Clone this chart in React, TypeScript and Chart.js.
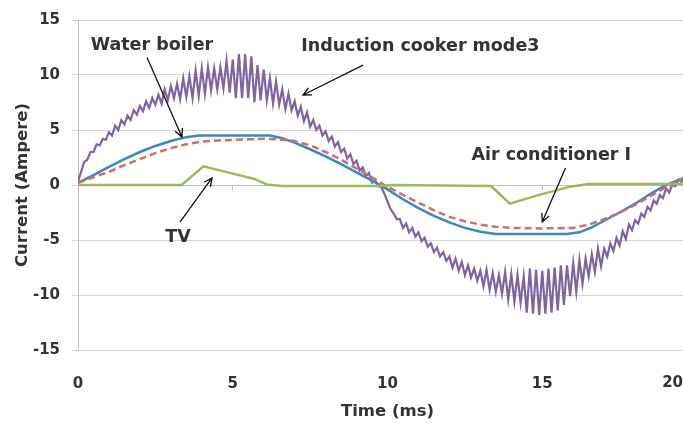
import React, { useEffect, useRef } from 'react';
import { Chart, registerables } from 'chart.js';

Chart.register(...registerables);

// ---- axes ----
const xTickValues = [0, 5, 10, 15, 20];
const yTickValues = [-15, -10, -5, 0, 5, 10, 15];

// ---- Induction cooker mode3 (sampled every 0.1 ms) ----
const inductionStepMs = 0.1;
const inductionCooker = [
  0.3, 1.2, 2.1, 2.3, 3.0, 3.0, 3.7, 3.6, 4.2, 4.1,
  4.8, 4.5, 5.4, 5.0, 5.9, 5.5, 6.3, 5.9, 6.8, 6.4,
  7.2, 6.7, 7.6, 7.0, 7.9, 7.3, 8.2, 7.4, 8.7, 7.7,
  9.0, 7.9, 9.2, 7.8, 9.7, 8.0, 9.9, 7.9, 10.4, 8.1,
  10.6, 8.3, 10.7, 8.6, 10.6, 8.7, 10.7, 8.8, 11.3, 8.4,
  11.4, 7.9, 11.9, 7.9, 11.9, 7.9, 11.7, 7.5, 10.9, 7.7,
  10.5, 7.7, 9.7, 7.4, 9.4, 7.3, 8.7, 6.9, 8.3, 6.8,
  7.6, 6.3, 7.1, 5.8, 6.6, 5.3, 5.9, 5.0, 5.4, 4.5,
  4.9, 4.0, 4.4, 3.5, 3.9, 3.0, 3.3, 2.4, 2.8, 1.9,
  2.2, 1.3, 1.6, 0.8, 1.1, 0.2, 0.4, -0.1, -0.2, -0.8,
  -1.5, -2.2, -2.6, -3.1, -3.1, -3.9, -3.5, -4.3, -3.9, -4.7,
  -4.3, -5.1, -4.8, -5.6, -5.3, -6.1, -5.7, -6.5, -6.1, -6.9,
  -6.5, -7.5, -6.7, -7.8, -7.0, -8.2, -7.3, -8.4, -7.6, -8.7,
  -7.8, -9.2, -7.7, -9.5, -8.0, -9.7, -8.2, -9.9, -7.9, -10.4,
  -8.1, -10.6, -8.2, -10.7, -8.3, -11.6, -7.6, -11.7, -7.7, -11.8,
  -7.8, -11.7, -7.6, -11.6, -7.5, -11.4, -7.3, -10.9, -7.3, -10.1,
  -7.1, -9.7, -6.8, -9.0, -6.7, -8.3, -6.3, -7.9, -5.8, -7.4,
  -5.8, -6.5, -5.3, -6.0, -4.8, -5.5, -4.2, -4.9, -3.6, -4.1,
  -3.2, -3.5, -2.6, -2.9, -2.0, -2.3, -1.4, -1.7, -0.9, -1.2,
  -0.3, -0.7, 0.0, -0.1, 0.5, 0.3, 0.9, 0.7, 1.4, 1.2,
  1.6,
];
const inductionTime = inductionCooker.map((_, i) => Math.round(i * inductionStepMs * 10) / 10);

// ---- Water boiler ----
const boilerTime = [0, 0.5, 1, 1.5, 2, 2.5, 3, 3.5, 3.9, 6.2, 6.6, 7, 7.5, 8, 8.5, 9, 9.5, 10, 10.5, 11, 11.5, 12, 12.5, 13, 13.5, 15.8, 16.2, 16.6, 17, 17.5, 18, 18.5, 19, 19.5, 20];
const boilerCurrent = [0.2, 0.9, 1.65, 2.35, 3.0, 3.55, 4.0, 4.35, 4.5, 4.5, 4.25, 3.85, 3.25, 2.6, 1.9, 1.15, 0.4, -0.4, -1.3, -2.1, -2.8, -3.4, -3.9, -4.25, -4.45, -4.45, -4.3, -3.85, -3.25, -2.5, -1.7, -0.8, 0.0, 0.55, 1.1];

// ---- Air conditioner I ----
const acTime = [0, 0.5, 1, 1.5, 2, 2.5, 3, 3.5, 4, 4.5, 5, 5.5, 6, 6.5, 7, 7.5, 8, 8.5, 9, 9.5, 9.9, 10.5, 11, 11.5, 12, 12.5, 13, 13.5, 14, 15, 16, 16.5, 17, 17.5, 18, 18.5, 19, 19.5, 20];
const acCurrent = [0.2, 0.7, 1.2, 1.8, 2.35, 2.9, 3.35, 3.7, 3.95, 4.05, 4.1, 4.15, 4.2, 4.15, 4.0, 3.6, 3.0, 2.3, 1.5, 0.7, 0.0, -0.9, -1.6, -2.3, -2.9, -3.3, -3.6, -3.8, -3.9, -3.95, -3.9, -3.6, -3.1, -2.5, -1.8, -1.0, -0.2, 0.5, 1.1];

// ---- TV ----
const tvTime = [0, 3.35, 4.05, 5.2, 5.7, 6.1, 6.6, 9.7, 10.2, 13.35, 13.95, 14.9, 15.9, 16.5, 20];
const tvCurrent = [0, 0, 1.7, 0.9, 0.55, 0.05, -0.1, -0.1, 0.0, -0.1, -1.7, -0.9, -0.15, 0.1, 0.1];

// ---- annotations (data coordinates) ----
const annotationTexts = ['Water boiler', 'Induction cooker mode3', 'Air conditioner I', 'TV'];
const annotationAt = [[2.39, 12.7], [11.06, 12.6], [15.29, 2.73], [3.23, -4.8]];
const arrowFrom = [[2.23, 11.6], [9.21, 10.9], [15.75, 1.55], [3.3, -3.36]];
const arrowTo = [[3.36, 4.36], [7.27, 8.18], [15.0, -3.36], [4.33, 0.64]];

const TEXT = '#333333';
const FONT_FAMILY = '"DejaVu Sans", Verdana, sans-serif';

const toXY = (t: number[], v: number[]) => t.map((x, i) => ({ x, y: v[i] }));

const annotationPlugin = {
  id: 'annotations',
  afterDraw(chart: any) {
    const { ctx, scales } = chart;
    const xs = scales.x;
    const ys = scales.y;
    ctx.save();
    ctx.fillStyle = TEXT;
    ctx.strokeStyle = '#111';
    ctx.lineWidth = 1.3;
    ctx.font = `bold 17.5px ${FONT_FAMILY}`;
    ctx.textAlign = 'center';
    ctx.textBaseline = 'middle';
    annotationTexts.forEach((txt, i) => {
      const px = xs.getPixelForValue(annotationAt[i][0]);
      const py = ys.getPixelForValue(annotationAt[i][1]);
      ctx.fillText(txt, px, py);
      const x1 = xs.getPixelForValue(arrowFrom[i][0]);
      const y1 = ys.getPixelForValue(arrowFrom[i][1]);
      const x2 = xs.getPixelForValue(arrowTo[i][0]);
      const y2 = ys.getPixelForValue(arrowTo[i][1]);
      ctx.beginPath();
      ctx.moveTo(x1, y1);
      ctx.lineTo(x2, y2);
      const ang = Math.atan2(y2 - y1, x2 - x1);
      const L = 9;
      const spread = 0.45;
      ctx.moveTo(x2 - L * Math.cos(ang - spread), y2 - L * Math.sin(ang - spread));
      ctx.lineTo(x2, y2);
      ctx.lineTo(x2 - L * Math.cos(ang + spread), y2 - L * Math.sin(ang + spread));
      ctx.stroke();
    });
    // last x tick label, pulled inside the visible area (as in the source chart)
    ctx.font = `bold 15px ${FONT_FAMILY}`;
    ctx.textAlign = 'right';
    const last = xTickValues[xTickValues.length - 1];
    ctx.fillText(String(last), 683, xs.top + 33);
    ctx.restore();
  },
};

export default function App() {
  const ref = useRef<HTMLCanvasElement | null>(null);
  useEffect(() => {
    if (!ref.current) return;
    const tickFont = { family: FONT_FAMILY, size: 15, weight: 'bold' as const };
    const titleFont = { family: FONT_FAMILY, size: 16.5, weight: 'bold' as const };
    const chart = new Chart(ref.current, {
      type: 'line',
      data: {
        datasets: [
          {
            label: 'TV',
            data: toXY(tvTime, tvCurrent),
            borderColor: '#9BBB59',
            borderWidth: 2.5,
            pointRadius: 0,
            order: 0,
          },
          {
            label: 'Air conditioner I',
            data: toXY(acTime, acCurrent),
            borderColor: '#D96B63',
            borderWidth: 2.5,
            borderDash: [7, 4],
            pointRadius: 0,
            order: 1,
          },
          {
            label: 'Water boiler',
            data: toXY(boilerTime, boilerCurrent),
            borderColor: '#3589C9',
            borderWidth: 2.5,
            pointRadius: 0,
            order: 2,
          },
          {
            label: 'Induction cooker mode3',
            data: toXY(inductionTime, inductionCooker),
            borderColor: '#8064A2',
            borderWidth: 2.2,
            pointRadius: 0,
            order: 3,
          },
        ],
      },
      options: {
        responsive: true,
        maintainAspectRatio: false,
        animation: false,
        layout: { padding: { top: 20, right: 23, left: 0, bottom: 0 } },
        plugins: { legend: { display: false }, tooltip: { enabled: false } },
        scales: {
          x: {
            type: 'linear',
            min: 0,
            max: 20,
            position: 'bottom',
            afterBuildTicks: (s: any) => {
              s.ticks = xTickValues.map((value) => ({ value }));
            },
            ticks: {
              padding: 25,
              font: tickFont,
              color: (c: any) => (c.tick && c.tick.value === 20 ? 'rgba(0,0,0,0)' : TEXT),
              maxRotation: 0,
              autoSkip: false,
            },
            grid: { display: false, drawTicks: false },
            border: { display: false },
            title: { display: true, text: 'Time (ms)', font: titleFont, color: TEXT, padding: { top: 0, bottom: 1 } },
            afterFit: (s: any) => {
              s.height = 73;
              s.paddingLeft = 0;
              s.paddingRight = 0;
            },
          },
          x2: {
            type: 'linear',
            axis: 'x',
            min: 0,
            max: 20,
            position: { y: 0 },
            afterBuildTicks: (s: any) => {
              s.ticks = xTickValues.map((value) => ({ value }));
            },
            ticks: { display: false },
            grid: { display: true, drawOnChartArea: false, drawTicks: true, tickLength: 5, color: '#BFBFBF' },
            border: { display: true, color: '#BFBFBF', width: 1 },
          },
          y: {
            type: 'linear',
            min: -15,
            max: 15,
            afterBuildTicks: (s: any) => {
              s.ticks = yTickValues.map((value) => ({ value }));
            },
            ticks: { padding: 12, font: tickFont, color: TEXT },
            grid: { color: '#D6D6D6', drawTicks: true, tickLength: 6 },
            border: { display: true, color: '#BFBFBF' },
            title: { display: true, text: 'Current (Ampere)', font: titleFont, color: TEXT, padding: { top: 13, bottom: 0 } },
            afterFit: (s: any) => {
              s.width = 78;
              s.paddingTop = 0;
              s.paddingBottom = 0;
            },
          },
        },
      } as any,
      plugins: [annotationPlugin],
    });
    return () => chart.destroy();
  }, []);

  return (
    <div style={{ position: 'fixed', left: 0, top: 0, width: 683, height: 423, overflow: 'hidden', background: '#fff' }}>
      <div style={{ position: 'relative', width: 720, height: 423 }}>
        <canvas ref={ref} />
      </div>
    </div>
  );
}
